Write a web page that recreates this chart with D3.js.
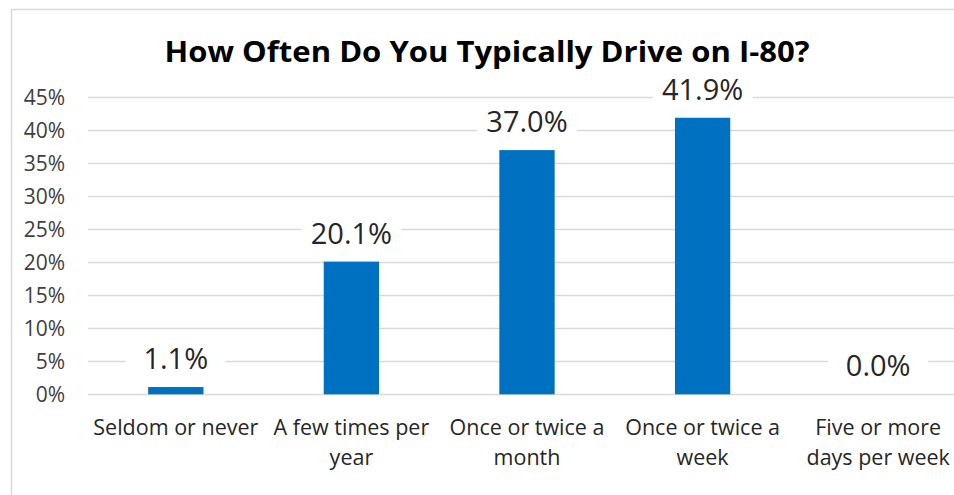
<!DOCTYPE html>
<html>
<head>
<meta charset="utf-8">
<script src="https://cdn.jsdelivr.net/npm/d3@7"></script>
<style>
  html, body { margin: 0; padding: 0; background: #fff; }
  svg { display: block; }
</style>
</head>
<body>
<svg id="chart" width="954" height="495"></svg>
<script>
const categories = [
  ["Seldom or never"],
  ["A few times per", "year"],
  ["Once or twice a", "month"],
  ["Once or twice a", "week"],
  ["Five or more", "days per week"]
];
const values = [1.1, 20.1, 37.0, 41.9, 0.0];
const yTicks = [0, 5, 10, 15, 20, 25, 30, 35, 40, 45];
const title = "How Often Do You Typically Drive on I-80?";

const svg = d3.select("#chart");
const font = "'Open Sans', sans-serif";

// outer frame
svg.append("rect")
  .attr("x", 11.5).attr("y", 9.5)
  .attr("width", 1000).attr("height", 600)
  .attr("fill", "#fff")
  .attr("stroke", "#d9d9d9").attr("stroke-width", 1.5);

const plot = { left: 88, right: 966, top: 97.3, bottom: 394.3 };

const x = d3.scaleBand()
  .domain(d3.range(categories.length))
  .range([plot.left, plot.right])
  .paddingInner(0.685).paddingOuter(0.3425);

const y = d3.scaleLinear().domain([0, 45]).range([plot.bottom, plot.top]);

// gridlines
svg.append("g").selectAll("line").data(yTicks).join("line")
  .attr("x1", plot.left).attr("x2", plot.right)
  .attr("y1", d => Math.round(y(d)) + 0.5).attr("y2", d => Math.round(y(d)) + 0.5)
  .attr("stroke", "#d9d9d9").attr("stroke-width", 1.5);

// y axis labels
const yAxis = d3.axisLeft(y).tickValues(yTicks).tickFormat(d => d + "%").tickSize(0).tickPadding(0);
const gy = svg.append("g").attr("transform", `translate(65,0)`).call(yAxis);
gy.select(".domain").remove();
gy.selectAll("text")
  .attr("font-family", font).attr("font-size", 21).attr("fill", "#404040").attr("dy", "0.35em");

// bars
svg.append("g").selectAll("rect").data(values).join("rect")
  .attr("x", (d, i) => x(i))
  .attr("width", x.bandwidth())
  .attr("y", d => y(d))
  .attr("height", d => y(0) - y(d))
  .attr("fill", "#0070c0");

// value labels with white backing
const lab = svg.append("g").selectAll("g").data(values).join("g")
  .attr("transform", (d, i) => `translate(${x(i) + x.bandwidth() / 2},${y(d) - 18})`);
lab.append("rect")
  .attr("x", -50).attr("y", -29).attr("width", 100).attr("height", 35)
  .attr("fill", "#fff");
lab.append("text")
  .attr("text-anchor", "middle")
  .attr("font-family", font).attr("font-size", 29).attr("fill", "#262626")
  .text(d => d.toFixed(1) + "%");

// category labels
const cat = svg.append("g").selectAll("text").data(categories).join("text")
  .attr("x", (d, i) => x(i) + x.bandwidth() / 2)
  .attr("y", 435)
  .attr("text-anchor", "middle")
  .attr("font-family", font).attr("font-size", 21.5).attr("fill", "#262626");
cat.selectAll("tspan").data(d => d).join("tspan")
  .attr("x", function () { return this.parentNode.getAttribute("x"); })
  .attr("dy", (d, i) => i === 0 ? 0 : 30)
  .text(d => d);

// title
svg.append("text")
  .attr("x", 487).attr("y", 62)
  .attr("text-anchor", "middle")
  .attr("font-family", font).attr("font-size", 29).attr("font-weight", "bold")
  .attr("fill", "#000")
  .attr("textLength", 645).attr("lengthAdjust", "spacingAndGlyphs")
  .text(title);
</script>
</body>
</html>
